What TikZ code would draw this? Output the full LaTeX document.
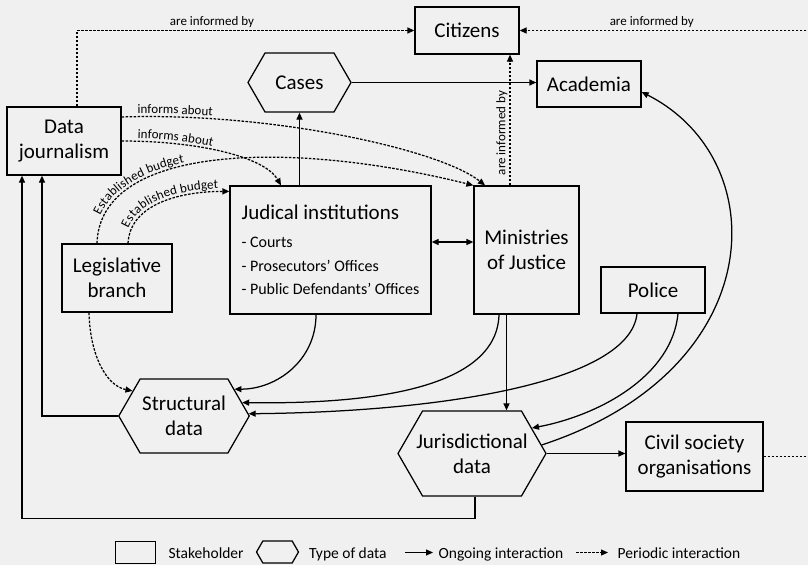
\documentclass[tikz,border=0pt]{standalone}
\usepackage{fontspec}
\setmainfont{Carlito}
\usetikzlibrary{arrows.meta,shapes.symbols,decorations.text}

\definecolor{bgcol}{RGB}{240,240,240}
\newcommand\boxfont{\fontsize{21}{25}\selectfont}
\newcommand\itemfont{\fontsize{16}{23.5}\selectfont}
\newcommand\edgefont{\fontsize{13}{15}\selectfont}
\newcommand\keyfont{\fontsize{15.5}{18}\selectfont}

\tikzset{
  stake_node/.style={draw, rectangle, align=center, inner sep=2pt, font=\boxfont},
  data_node/.style={draw, signal, signal to=east and west, signal pointer angle=120,
     align=center, inner sep=2pt, font=\boxfont},
  ongoing/.style={->},
  periodic/.style={->, dash pattern=on 2.6pt off 1.4pt},
  edge_label/.style={font=\edgefont, inner sep=2pt},
  key_label/.style={font=\keyfont, anchor=base west, inner sep=0pt},
  curve_label/.style 2 args={postaction={decorate, decoration={text along path,
     text={|\edgefont|#2}, text align={left indent=#1}, raise=3pt}}}
}

\begin{document}
\begin{tikzpicture}[x=1pt, y=-1pt, line width=1.25pt, >={Triangle[length=7pt,width=6pt]}]
            \fill[bgcol] (0,0) rectangle (808,565);
            \useasboundingbox (0,0) rectangle (808,565);

            % stakeholders
            \node[stake_node, minimum width=104pt, minimum height=47pt] (cit) at (467,30.5) {Citizens};
            \node[stake_node, minimum width=104pt, minimum height=46pt] (acad) at (589,84) {Academia};
            \node[stake_node, minimum width=114pt, minimum height=68pt] (dj) at (64,141) {Data\\journalism};
            \node[stake_node, minimum width=110pt, minimum height=68pt] (leg) at (117,278) {Legislative\\branch};
            \node[stake_node, minimum width=201pt, minimum height=128pt, align=left, font=\itemfont] (jud) at (330.5,250)
                {{\boxfont Judical institutions}\\[5pt]- Courts\\- Prosecutors’ Offices\\- Public Defendants’ Offices};
            \node[stake_node, minimum width=105pt, minimum height=128pt] (min) at (526.5,250) {Ministries\\of Justice};
            \node[stake_node, minimum width=104pt, minimum height=46pt] (pol) at (653,290) {Police};
            \node[stake_node, minimum width=137pt, minimum height=69pt] (cso) at (694.5,456.5) {Civil society\\organisations};

            % types of data
            \node[data_node, minimum width=103pt, minimum height=59pt] (cases) at (299.5,82.5) {Cases};
            \node[data_node, minimum width=130pt, minimum height=74pt] (struct) at (184,416) {Structural\\data};
            \node[data_node, minimum width=148pt, minimum height=85pt, inner xsep=-8pt] (juris) at (472,453.5) {Jurisdictional\\data};

            % periodic interactions
            \draw[periodic] ([xshift=13pt]dj.north) |- (cit.west) node[edge_label, pos=0.7, above] {are informed by};
            \coordinate (cso_out) at (820,456.5);
            \draw[periodic] (cso.east) -- (cso_out) |- (cit.east) node[edge_label, pos=0.78, above] {are informed by};
            \coordinate (min_top) at ([xshift=-16.5pt]min.north);
            \draw[periodic] (min_top) -- (min_top |- cit.south) node[edge_label, pos=0.4, above, sloped] {are informed by};
            \draw[periodic, curve_label={16pt}{informs about}] ([yshift=24pt]dj.east)
                .. controls +(149,-5) and +(-45,-36) .. ([xshift=-41.5pt]min.north);
            \draw[periodic, curve_label={16pt}{informs about}] (dj.east)
                .. controls +(79,0) and +(-16,-28) .. ([xshift=-49.5pt]jud.north);
            \draw[periodic, curve_label={27pt}{Established budget}] ([xshift=-20pt]leg.north)
                .. controls +(3,-100) and +(-180,-45) .. (min.north west);
            \draw[periodic, curve_label={14pt}{Established budget}] ([xshift=11pt]leg.north)
                .. controls +(2,-39) and +(-50,0) .. ([yshift=-6pt]jud.north west);
            \draw[periodic] ([xshift=-28pt]leg.south) .. controls +(1,43) and +(-26,-5) .. (struct.154);

            % ongoing interactions
            \draw[ongoing] (cases.east) -- (cases.east -| acad.west);
            \draw[ongoing] (cases.south |- jud.north) -- (cases.south);
            \draw[<->] ([yshift=8pt]jud.east) -- ([yshift=8pt]min.west);
            \draw[ongoing] ([xshift=-14.5pt]jud.south) .. controls +(0,46) and +(42,0) .. (struct.28);
            \draw[ongoing] ([xshift=-27.5pt]min.south) .. controls +(-2,71) and +(139,2) .. (struct.13);
            \draw[ongoing] ([xshift=-16pt]pol.south) .. controls +(-7,67) and +(201,-2) .. (struct.2);
            \coordinate (min_bot) at ([xshift=-20pt]min.south);
            \draw[ongoing] (min_bot) -- (min_bot |- juris.north);
            \draw[ongoing] ([xshift=25pt]pol.south) .. controls +(-6,62) and +(68,-13) .. (juris.23);
            \draw[ongoing] (juris.7) .. controls +(229,-75) and +(134,68) .. ([yshift=-8pt]acad.east);
            \draw[ongoing] (juris.east) -- (juris.east -| cso.west);
            \coordinate (juris_low) at ([yshift=-22pt]juris.south);
            \draw[ongoing] ([xshift=3pt]juris.south) -- ([xshift=3pt]juris_low) -| ([xshift=-42pt]dj.south);
            \draw[ongoing] (struct.west) -| ([xshift=-22pt]dj.south);

            % legend
            \node[stake_node, minimum width=40pt, minimum height=22pt] (key_stake) at (135.5,552.5) {};
            \node[key_label] (key_stake_txt) at (168,558) {Stakeholder};
            \node[data_node, minimum width=42pt, minimum height=22pt] (key_data) at (277.5,552) {};
            \node[key_label] (key_data_txt) at (308.5,558) {Type of data};
            \coordinate (key_on_a) at (405,552.5);
            \coordinate (key_on_b) at (433,552.5);
            \draw[ongoing, line width=1pt] (key_on_a) -- (key_on_b);
            \node[key_label] (key_on_txt) at (438,558) {Ongoing interaction};
            \coordinate (key_per_a) at (576,552.5);
            \coordinate (key_per_b) at (608,552.5);
            \draw[periodic, line width=1pt] (key_per_a) -- (key_per_b);
            \node[key_label] (key_per_txt) at (617,558) {Periodic interaction};
        \end{tikzpicture}
\end{document}
